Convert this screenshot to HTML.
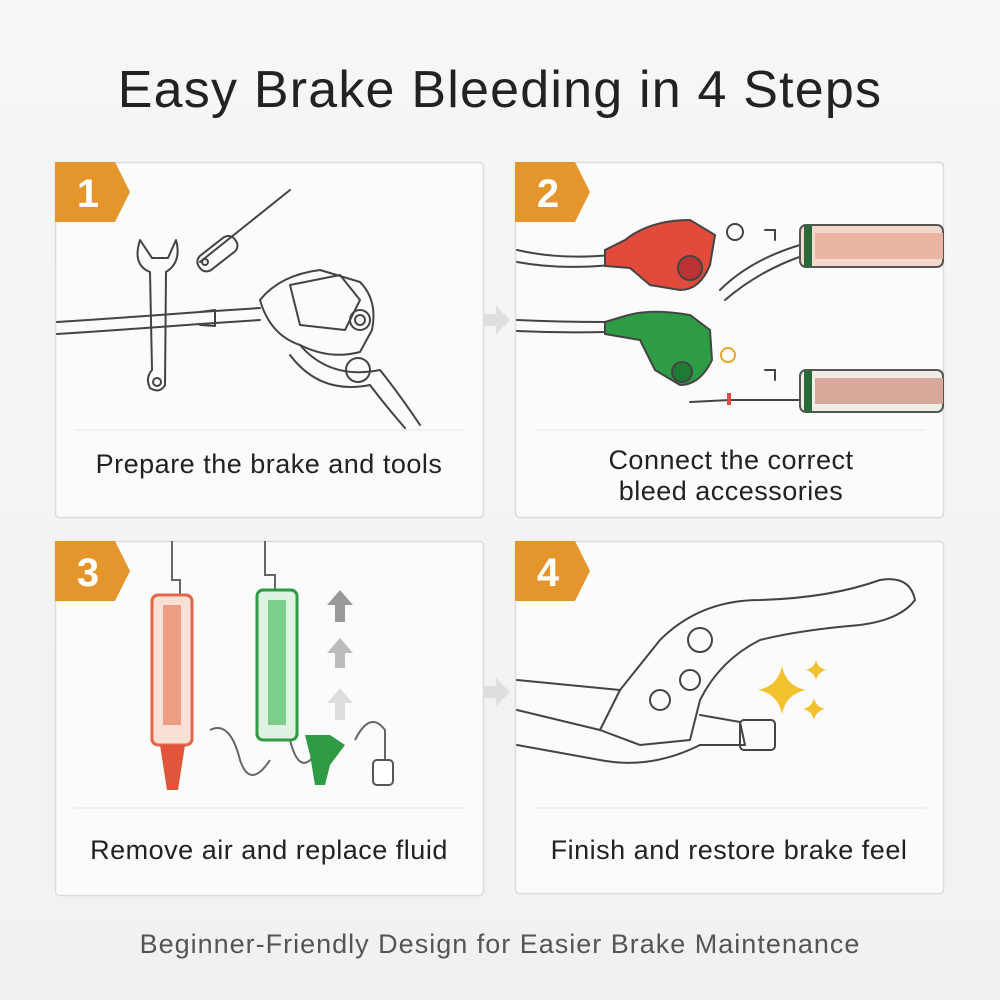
<!DOCTYPE html>
<html><head><meta charset="utf-8"><style>
html,body{margin:0;padding:0;background:#f4f4f4;}
body{width:1000px;height:1000px;position:relative;overflow:hidden;font-family:"Liberation Sans",sans-serif;}
.t{position:absolute;left:0;width:1000px;text-align:center;color:#222;}
.c{font-size:27px;letter-spacing:0.5px;}
</style></head><body>
<svg width="1000" height="1000" style="position:absolute;left:0;top:0">
<defs>
<linearGradient id="bg" x1="0" y1="0" x2="0" y2="1"><stop offset="0" stop-color="#f7f6f6"/><stop offset="1" stop-color="#f1f1f1"/></linearGradient>
</defs>
<rect width="1000" height="1000" fill="url(#bg)"/>
<g fill="#fbfbfb" stroke="#dcdcdc" stroke-width="1.5">
<rect x="55.5" y="162.5" width="428" height="355" rx="4"/>
<rect x="515.5" y="162.5" width="428" height="355" rx="4"/>
<rect x="55.5" y="541.5" width="428" height="354" rx="4"/>
<rect x="515.5" y="541.5" width="428" height="352" rx="4"/>
</g>
<g stroke="#ececec" stroke-width="1.5">
<line x1="75" y1="430" x2="465" y2="430"/><line x1="535" y1="430" x2="925" y2="430"/>
<line x1="75" y1="808" x2="465" y2="808"/><line x1="535" y1="808" x2="925" y2="808"/>
</g>
<g fill="#e4962c">
<path d="M55 162 H115 L130 192 L115 222 H55Z"/>
<path d="M515 162 H575 L590 192 L575 222 H515Z"/>
<path d="M55 541 H115 L130 571 L115 601 H55Z"/>
<path d="M515 541 H575 L590 571 L575 601 H515Z"/>
</g>
<g fill="#fff" font-family="Liberation Sans" font-weight="bold" font-size="40" text-anchor="middle">
<text x="88" y="207">1</text><text x="548" y="207">2</text><text x="88" y="586">3</text><text x="548" y="586">4</text>
</g>
<g fill="#dedede"><path d="M484 314 H496 V306 L510 320 L496 334 V326 H484Z"/><path d="M484 686 H496 V678 L510 692 L496 706 V698 H484Z"/></g>
<g fill="none" stroke="#444" stroke-width="2" stroke-linecap="round" stroke-linejoin="round">
<path d="M57 322 Q120 318 200 312 L260 308"/><path d="M57 334 Q120 330 200 324 L260 320"/>
<path d="M140 240 Q132 265 150 272 L152 370 Q145 378 150 388 Q160 394 165 385 L166 272 Q182 262 176 240 L168 258 L152 258Z"/>
<circle cx="157" cy="382" r="4"/>
<path d="M200 262 L290 190"/><rect x="195" y="245" width="45" height="18" rx="8" transform="rotate(-38 217 254)"/>
<circle cx="205" cy="262" r="3"/>
<path d="M260 300 Q280 275 320 270 L360 282 Q378 300 372 330 L360 352 Q330 360 300 345 Q270 335 260 300Z"/>
<path d="M290 285 L340 275 L360 300 L345 330 L300 325Z"/>
<circle cx="360" cy="320" r="10"/><circle cx="360" cy="320" r="5"/>
<circle cx="358" cy="370" r="12"/>
<path d="M300 345 Q330 380 380 370 Q400 395 420 425"/><path d="M290 355 Q320 395 370 385 Q385 405 405 428"/>
<path d="M200 312 L215 310 L215 326 L200 325"/>
</g>
<g fill="none" stroke="#444" stroke-width="2" stroke-linecap="round">
<path d="M517 250 Q560 260 610 255"/><path d="M517 262 Q560 270 610 265"/>
<path d="M517 320 Q560 322 605 322"/><path d="M517 331 Q560 333 605 332"/>
<path d="M720 290 Q750 260 800 245"/><path d="M725 300 Q760 270 805 255"/>
<path d="M690 402 L730 400 L800 400"/><path d="M765 230 H775 V240"/><path d="M765 370 H775 V380"/>
</g>
<path d="M605 250 L625 240 Q650 220 690 220 L715 235 L710 265 Q700 290 680 290 L650 285 L630 268 L605 266Z" fill="#e24b3c" stroke="#444" stroke-width="2"/>
<circle cx="690" cy="268" r="12" fill="#b33" stroke="#444" stroke-width="2"/>
<path d="M605 322 L625 316 Q650 308 690 315 L710 330 L712 360 Q700 385 680 385 L655 370 L640 340 L605 334Z" fill="#2e9b45" stroke="#444" stroke-width="2"/>
<circle cx="682" cy="372" r="10" fill="#1f7a33" stroke="#444" stroke-width="2"/>
<circle cx="735" cy="232" r="8" fill="#fff" stroke="#444" stroke-width="2"/>
<circle cx="728" cy="355" r="7" fill="#fff" stroke="#e4a22c" stroke-width="2"/>
<g stroke="#555" stroke-width="2">
<rect x="800" y="225" width="143" height="42" rx="6" fill="#f5d8cc"/>
<rect x="815" y="233" width="128" height="26" fill="#e9b4a2" stroke="none"/>
<rect x="800" y="370" width="143" height="42" rx="6" fill="#f0ece6"/>
<rect x="815" y="378" width="128" height="26" fill="#d8a89a" stroke="none"/>
</g>
<rect x="804" y="225" width="8" height="42" fill="#2a6a3a"/><rect x="804" y="370" width="8" height="42" fill="#2a6a3a"/>
<rect x="727" y="393" width="4" height="12" fill="#e44"/>
<g fill="none" stroke="#666" stroke-width="2"><path d="M172 541 V580 H180 V595"/><path d="M265 541 V575 H275 V590"/>
<path d="M210 730 Q230 720 240 760 Q250 790 270 760"/><path d="M290 740 Q300 780 318 750"/><path d="M355 740 Q370 710 385 730 V760"/></g>
<rect x="152" y="595" width="40" height="150" rx="6" fill="#f8e0d4" stroke="#e0664c" stroke-width="3"/>
<rect x="163" y="605" width="18" height="120" fill="#ec9d84"/>
<path d="M160 745 H185 L178 790 H167Z" fill="#e0553c"/>
<rect x="257" y="590" width="40" height="150" rx="6" fill="#e0f3e2" stroke="#2e9b45" stroke-width="3"/>
<rect x="268" y="600" width="18" height="125" fill="#7ccf8a"/>
<path d="M305 735 H330 L345 745 L330 765 L325 785 H315 L310 755Z" fill="#2e9b45"/>
<rect x="373" y="760" width="20" height="25" rx="4" fill="#fff" stroke="#555" stroke-width="2"/>
<g fill="#999"><path d="M340 590 L353 605 H345 V622 H335 V605 H327Z"/><path d="M340 638 L353 653 H345 V668 H335 V653 H327Z" fill="#bbb"/><path d="M340 688 L353 703 H345 V720 H335 V703 H327Z" fill="#ddd"/></g>
<g fill="none" stroke="#444" stroke-width="2" stroke-linecap="round" stroke-linejoin="round">
<path d="M517 680 L620 690 L660 640 Q700 600 760 600 Q830 598 880 580 Q910 575 915 600 Q900 620 860 625 Q800 630 760 640 Q720 660 700 700 L690 740 L640 745 L600 730 L517 710"/>
<path d="M620 690 L600 730"/><circle cx="700" cy="640" r="12"/><circle cx="690" cy="680" r="10"/><circle cx="660" cy="700" r="10"/>
<path d="M700 715 L740 722 L745 745 L700 745"/><rect x="740" y="720" width="35" height="30" rx="4"/>
<path d="M517 745 L600 760 Q650 770 700 745"/>
</g>
<g fill="#f2c12e"><path d="M782 666 Q786 686 806 690 Q786 694 782 714 Q778 694 758 690 Q778 686 782 666Z"/><path d="M816 660 Q818 668 826 670 Q818 672 816 680 Q814 672 806 670 Q814 668 816 660Z"/><path d="M814 698 Q816 707 825 709 Q816 711 814 720 Q812 711 803 709 Q812 707 814 698Z"/></g>
</svg>
<div class="t" style="top:60px;font-size:52px;letter-spacing:1.2px;">Easy Brake Bleeding in 4 Steps</div>
<div class="t c" style="top:449px;left:55px;width:428px;">Prepare the brake and tools</div>
<div class="t c" style="top:445px;left:515px;width:432px;line-height:31px;">Connect the correct<br>bleed accessories</div>
<div class="t c" style="top:835px;left:55px;width:428px;">Remove air and replace fluid</div>
<div class="t c" style="top:835px;left:515px;width:428px;">Finish and restore brake feel</div>
<div class="t" style="top:929px;font-size:27px;letter-spacing:1px;color:#555;">Beginner-Friendly Design for Easier Brake Maintenance</div>
</body></html>
